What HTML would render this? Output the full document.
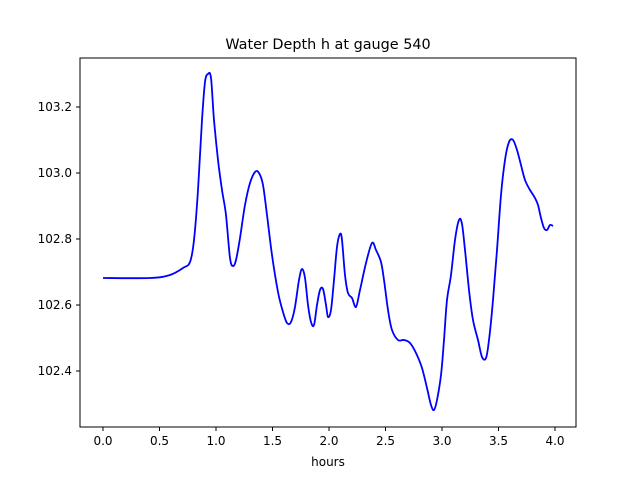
<!DOCTYPE html>
<html><head><style>body{margin:0;background:#fff}svg{display:block}text{font-family:"DejaVu Sans","Liberation Sans",sans-serif;font-size:12px;fill:#000}</style></head>
<body>
<svg width="640" height="480" viewBox="0 0 640 480">
<rect x="80" y="58" width="496" height="369" fill="#fff" stroke="#000" stroke-width="1"/>
<text x="328" y="49" text-anchor="middle" style="font-size:14.4px">Water Depth h at gauge 540</text>
<g stroke="#000">
<line x1="103" y1="427" x2="103" y2="431"/><line x1="159.5" y1="427" x2="159.5" y2="431"/><line x1="216" y1="427" x2="216" y2="431"/><line x1="272.5" y1="427" x2="272.5" y2="431"/><line x1="329" y1="427" x2="329" y2="431"/><line x1="385.5" y1="427" x2="385.5" y2="431"/><line x1="442" y1="427" x2="442" y2="431"/><line x1="498.5" y1="427" x2="498.5" y2="431"/><line x1="555" y1="427" x2="555" y2="431"/>
<line x1="76" y1="371" x2="80" y2="371"/><line x1="76" y1="305" x2="80" y2="305"/><line x1="76" y1="239" x2="80" y2="239"/><line x1="76" y1="173" x2="80" y2="173"/><line x1="76" y1="107" x2="80" y2="107"/>
</g>
<g text-anchor="middle">
<text x="103" y="445">0.0</text><text x="159.5" y="445">0.5</text><text x="216" y="445">1.0</text><text x="272.5" y="445">1.5</text><text x="329" y="445">2.0</text><text x="385.5" y="445">2.5</text><text x="442" y="445">3.0</text><text x="498.5" y="445">3.5</text><text x="555" y="445">4.0</text>
<text x="328" y="466">hours</text>
</g>
<g text-anchor="end">
<text x="72" y="375">102.4</text><text x="72" y="309">102.6</text><text x="72" y="243">102.8</text><text x="72" y="177">103.0</text><text x="72" y="111">103.2</text>
</g>
<path id="ln" fill="none" stroke="#0000ff" stroke-width="1.8" stroke-linejoin="round" d=""/>
</svg>
<script>
var s="103,278 150,278 170,275 183,268 190,262 194,240 198,190 202,120 205,82 208,74 211,78 214,120 218,160 222,190 226,215 230,258 233,266 236,260 240,238 245,205 250,183 255,172 259,173 263,185 267,215 272,255 278,292 283,312 287,323 291,322 295,307 299,280 302,269 305,278 308,305 311,322 314,325 317,305 320,290 323,289 326,305 328,317 331,310 334,280 337,247 340,234 342,240 345,275 348,293 352,298 356,307 360,290 366,263 372,243 376,250 381,262 384,280 388,310 392,330 398,340 404,340 410,343 416,353 422,368 427,388 431,405 434,410 437,400 441,375 444,340 447,300 451,275 455,240 459,220 462,224 465,250 469,290 473,320 478,340 482,357 486,358 489,340 493,300 497,250 501,195 505,160 509,142 513,140 517,150 521,165 525,180 530,190 535,198 538,205 541,218 544,228 547,230 550,225 553,226";
var p=s.split(" ").map(function(t){return t.split(",").map(Number);});
var d="M"+p[0][0]+","+p[0][1];
for(var i=0;i<p.length-1;i++){
var a=p[Math.max(i-1,0)],b=p[i],c=p[i+1],e=p[Math.min(i+2,p.length-1)];
var c1x=b[0]+(c[0]-a[0])/6,c1y=b[1]+(c[1]-a[1])/6,c2x=c[0]-(e[0]-b[0])/6,c2y=c[1]-(e[1]-b[1])/6;
d+=" C"+c1x.toFixed(1)+","+c1y.toFixed(1)+" "+c2x.toFixed(1)+","+c2y.toFixed(1)+" "+c[0]+","+c[1];
}
document.getElementById("ln").setAttribute("d",d);
</script>
</body></html>
